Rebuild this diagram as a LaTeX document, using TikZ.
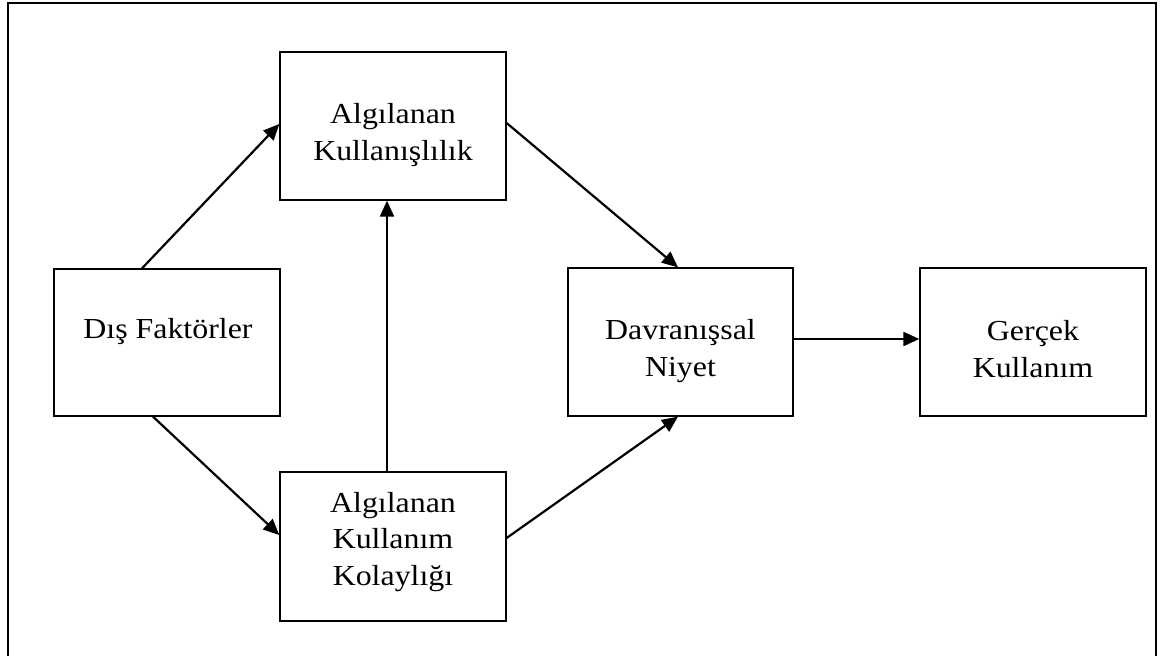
\documentclass[tikz,border=0pt]{standalone}
\usepackage{fontspec}
\newfontfamily\boxfont[FakeStretch=1.1]{Liberation Serif}
\usetikzlibrary{arrows.meta}

\tikzset{
  box/.style={draw, line width=1.3pt, rectangle, inner sep=0pt},
  lbl/.style={inner sep=0pt, align=center, anchor=base,
    font=\boxfont\fontsize{29}{36.5}\selectfont},
  link/.style={line width=2.2pt, -{Triangle[length=16pt,width=14pt]}},
  frame/.style={line width=2pt}
}

\begin{document}
\begin{tikzpicture}[x=1pt, y=-1pt]
  \useasboundingbox (0,0) rectangle (1171,656);

  % outer frame, open at the bottom
  \draw[frame] (8,656) -- (8,3) -- (1156,3) -- (1156,656);

  % boxes
  \node[box, minimum width=226pt, minimum height=147pt] (df)  at (167,342.5) {};
  \node[box, minimum width=226pt, minimum height=148pt] (ak)  at (393,126) {};
  \node[box, minimum width=226pt, minimum height=149pt] (akk) at (393,546.5) {};
  \node[box, minimum width=225pt, minimum height=148pt] (dn)  at (680.5,342) {};
  \node[box, minimum width=226pt, minimum height=148pt] (gk)  at (1033,342) {};

  % labels (anchored at the baseline of the last line)
  \node[lbl] (dfT)  at (168,338)   {Dış Faktörler};
  \node[lbl] (akT)  at (393,160)   {Algılanan\\Kullanışlılık};
  \node[lbl] (akkT) at (393,585)   {Algılanan\\Kullanım\\Kolaylığı};
  \node[lbl] (dnT)  at (680.5,376) {Davranışsal\\Niyet};
  \node[lbl] (gkT)  at (1033,377)  {Gerçek\\Kullanım};

  % connectors
  \draw[link] ([xshift=-25pt]df.north) -- ([yshift=2pt]ak.west);
  \draw[link] ([xshift=-14pt]df.south) -- ([yshift=11.5pt]akk.west);
  \draw[link] ([xshift=-6pt]akk.north) -- ([xshift=-6pt]ak.south);
  \draw[link] ([yshift=3pt]ak.east) -- ([xshift=-2.5pt]dn.north);
  \draw[link] ([yshift=8.5pt]akk.east) -- ([xshift=-2.5pt]dn.south);
  \draw[link] ([yshift=3pt]dn.east) -- ([yshift=3pt]gk.west);
\end{tikzpicture}
\end{document}
